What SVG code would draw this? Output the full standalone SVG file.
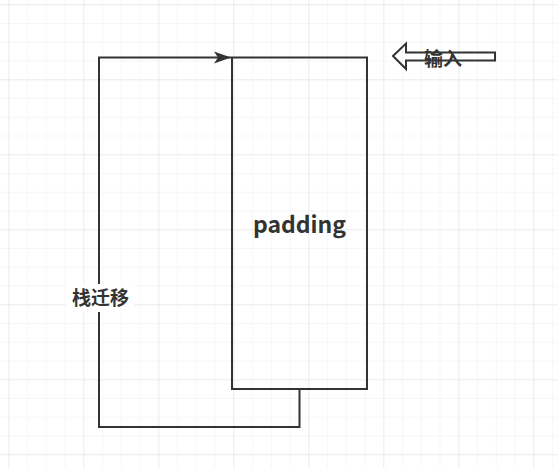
<svg xmlns="http://www.w3.org/2000/svg" width="558" height="468" viewBox="0 0 558 468">
<defs>
<pattern id="minor" x="8.3" y="4.3" width="18.75" height="18.75" patternUnits="userSpaceOnUse">
<path d="M0 0H18.75M0 0V18.75" fill="none" stroke="#f0f0f0" stroke-width="1"/>
</pattern>
<pattern id="major" x="8.3" y="4.3" width="75" height="75" patternUnits="userSpaceOnUse">
<path d="M0 0H75M0 0V75" fill="none" stroke="#e2e2e2" stroke-width="1"/>
</pattern>
<marker id="arr" markerWidth="17" markerHeight="14" refX="17" refY="7" orient="auto" markerUnits="userSpaceOnUse" viewBox="0 0 17 14">
<path d="M0 1 L17 7 L0 13 L4 7 Z" fill="#333"/>
</marker>
<style>
.ln{fill:none;stroke:#333;stroke-width:2}
.t{font-family:"Noto Sans CJK SC","Liberation Sans",sans-serif;fill:#333}
</style>
</defs>
<rect width="558" height="468" fill="#fff"/>
<rect width="558" height="468" fill="url(#minor)"/>
<rect width="558" height="468" fill="url(#major)"/>
<g id="connectors">
<path class="ln" d="M299.5 389 V427 H99 V57.5 H231" marker-end="url(#arr)"/>
<rect x="66" y="284" width="68" height="28" fill="#fff"/>
<text class="t" x="100.5" y="304.5" font-size="19" font-weight="bold" text-anchor="middle">栈迁移</text>
</g>
<g id="padding">
<rect class="ln" x="232" y="57.5" width="135" height="331.5" fill="#fff"/>
<text class="t" x="299.5" y="233" font-size="23" font-weight="bold" text-anchor="middle">padding</text>
</g>
<g id="input">
<path class="ln" d="M393 56 L406 43.5 V52.5 H495 V60.5 H406 V69 Z" fill="#fff"/>
<text class="t" x="443" y="65.5" font-size="19" font-weight="bold" text-anchor="middle">输入</text>
</g>
</svg>
